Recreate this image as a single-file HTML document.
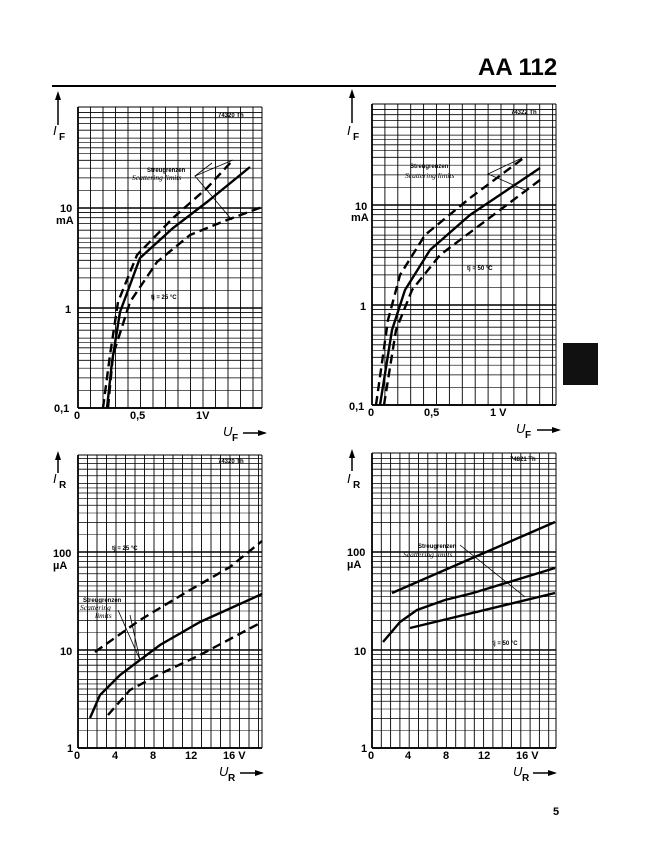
<!DOCTYPE html>
<html><head><meta charset="utf-8"><style>
body{margin:0;background:#fff}
svg{display:block;font-family:"Liberation Sans",sans-serif}
.c{fill:none;stroke:#000;stroke-width:2.4}
.d{stroke-dasharray:9,5}
.t{font-weight:bold;font-size:11px}
</style></head><body>
<svg id="s" width="645" height="865" viewBox="0 0 645 865">
<text x="478" y="75" font-size="24" font-weight="bold">AA 112</text>
<line x1="52" y1="86" x2="556" y2="86" stroke="#000" stroke-width="2"/>
<rect x="563" y="343" width="35" height="42" fill="#111"/>
<text x="553" y="815" font-size="11" font-weight="bold">5</text>
<g id="grid"></g>
<g class="t">
<text x="53" y="135" font-size="13" font-weight="normal" font-style="italic">I</text><text x="59" y="140" font-size="10">F</text>
<text x="60" y="212">10</text><text x="56" y="224">mA</text><text x="65" y="313">1</text><text x="54" y="412">0,1</text>
<text x="74" y="419">0</text><text x="130" y="419">0,5</text><text x="196" y="419">1V</text>
<text x="223" y="436" font-style="italic" font-weight="normal" font-size="13">U</text><text x="232" y="441" font-size="10">F</text>
<text x="347" y="135" font-size="13" font-weight="normal" font-style="italic">I</text><text x="353" y="140" font-size="10">F</text>
<text x="355" y="210">10</text><text x="351" y="221">mA</text><text x="360" y="310">1</text><text x="349" y="410">0,1</text>
<text x="368" y="416">0</text><text x="424" y="416">0,5</text><text x="490" y="416">1 V</text>
<text x="516" y="433" font-style="italic" font-weight="normal" font-size="13">U</text><text x="525" y="438" font-size="10">F</text>
<text x="53" y="483" font-size="13" font-weight="normal" font-style="italic">I</text><text x="59" y="488" font-size="10">R</text>
<text x="53" y="557">100</text><text x="53" y="569">µA</text><text x="60" y="655">10</text><text x="67" y="752">1</text>
<text x="74" y="759">0</text><text x="112" y="759">4</text><text x="150" y="759">8</text><text x="185" y="759">12</text><text x="223" y="759">16 V</text>
<text x="219" y="776" font-style="italic" font-weight="normal" font-size="13">U</text><text x="228" y="781" font-size="10">R</text>
<text x="347" y="483" font-size="13" font-weight="normal" font-style="italic">I</text><text x="353" y="488" font-size="10">R</text>
<text x="347" y="556">100</text><text x="347" y="568">µA</text><text x="354" y="655">10</text><text x="361" y="752">1</text>
<text x="368" y="759">0</text><text x="405" y="759">4</text><text x="443" y="759">8</text><text x="478" y="759">12</text><text x="516" y="759">16 V</text>
<text x="513" y="776" font-style="italic" font-weight="normal" font-size="13">U</text><text x="522" y="781" font-size="10">R</text>
</g>
<g font-size="6" font-weight="bold">
<text x="147" y="172">Streugrenzen</text><text x="410" y="168">Streugrenzen</text>
<text x="83" y="602">Streugrenzen</text><text x="418" y="548">Streugrenzen</text>
<text x="151" y="299">tj = 25 °C</text><text x="467" y="270">tj = 50 °C</text>
<text x="112" y="550">tj = 25 °C</text><text x="492" y="645">tj = 50 °C</text>
<text x="218" y="117">74320 Th</text><text x="511" y="114">74322 Th</text>
<text x="218" y="463">74320 Th</text><text x="510" y="461">74821 Th</text>
</g>
<g font-size="7.5" font-style="italic" font-family="Liberation Serif">
<text x="132" y="180">Scattering limits</text><text x="405" y="178">Scattering limits</text>
<text x="80" y="610">Scattering</text><text x="95" y="618">limits</text>
<text x="403" y="557">Scattering limits</text>
</g>
<g class="c">
<polyline class="d" points="103,408 110,355 118,302 137,255 173,218 207,188 233,160"/>
<polyline points="107,408 112,362 120,312 140,258 173,228 207,202 250,167"/>
<polyline class="d" points="108,408 113,355 130,302 157,262 190,235 227,220 262,207"/>
<polyline class="d" points="376,405 388,320 400,275 425,235 470,198 525,157"/>
<polyline points="380,405 392,330 405,290 430,250 470,215 540,168"/>
<polyline class="d" points="384,405 396,330 412,290 440,255 480,225 540,180"/>
<polyline class="d" points="95,652 140,620 190,590 230,567 262,541"/>
<polyline points="90,718 100,695 120,675 160,645 200,622 262,594"/>
<polyline class="d" points="108,715 130,690 160,674 200,655 262,622"/>
<polyline points="392,593 555,522"/>
<polyline points="383,642 400,622 417,610 445,600 473,593 555,568"/>
<polyline points="410,628 555,593"/>
</g>
<g stroke="#000" stroke-width="0.8" fill="none">
<polyline points="233,160 195,176 232,220"/><polyline points="212,163 195,176"/>
<polyline points="522,158 488,174 525,190"/>
<polyline points="118,610 140,660"/><polyline points="130,615 140,660"/>
<polyline points="460,545 525,597"/>
</g>
</svg>
<script>
var g=document.getElementById('grid'),h='';
function L(a,b,c,d,w){h+='<line x1="'+a+'" y1="'+b+'" x2="'+c+'" y2="'+d+'" stroke="#000" stroke-width="'+w+'"/>';}
function chart(x0,x1,bot,dec,nd,top,xstep){
 L(x0,top,x0,bot,1.8);L(x0,bot,x1,bot,1.8);L(x1,top,x1,bot,1);L(x0,top,x1,top,1);
 for(var x=x0+xstep;x<x1-1;x+=xstep)L(x,top,x,bot,0.9);
 for(var k=0;k<nd;k++)for(var m=1;m<10;m++){var y=bot-dec*k-dec*Math.log10(m);if(y>=top)L(x0,y,x1,y,m==1?1.6:0.8);
  if(m<5){var y2=bot-dec*k-dec*Math.log10(m+0.5);L(x0,y2,x1,y2,0.6);}}
}
chart(78,262,408,100,3,107,12.5);
chart(372,556,405,100,3,104,12.9);
chart(78,262,748,98,3,455,9.5);
chart(372,556,748,98,3,453,9.3);
h+='<line x1="58" y1="95" x2="58" y2="125" stroke="#000" stroke-width="1.5"/><polygon points="55,100 58,91 61,100"/>';
h+='<line x1="352" y1="93" x2="352" y2="123" stroke="#000" stroke-width="1.5"/><polygon points="349,98 352,89 355,98"/>';
h+='<line x1="58" y1="455" x2="58" y2="473" stroke="#000" stroke-width="1.5"/><polygon points="55,460 58,451 61,460"/>';
h+='<line x1="352" y1="453" x2="352" y2="471" stroke="#000" stroke-width="1.5"/><polygon points="349,458 352,449 355,458"/>';
h+='<line x1="243" y1="433" x2="265" y2="433" stroke="#000" stroke-width="1.5"/><polygon points="258,430 267,433 258,436"/>';
h+='<line x1="537" y1="430" x2="559" y2="430" stroke="#000" stroke-width="1.5"/><polygon points="552,427 561,430 552,433"/>';
h+='<line x1="240" y1="773" x2="262" y2="773" stroke="#000" stroke-width="1.5"/><polygon points="255,770 264,773 255,776"/>';
h+='<line x1="533" y1="773" x2="555" y2="773" stroke="#000" stroke-width="1.5"/><polygon points="548,770 557,773 548,776"/>';
g.innerHTML=h;
</script>
</body></html>
